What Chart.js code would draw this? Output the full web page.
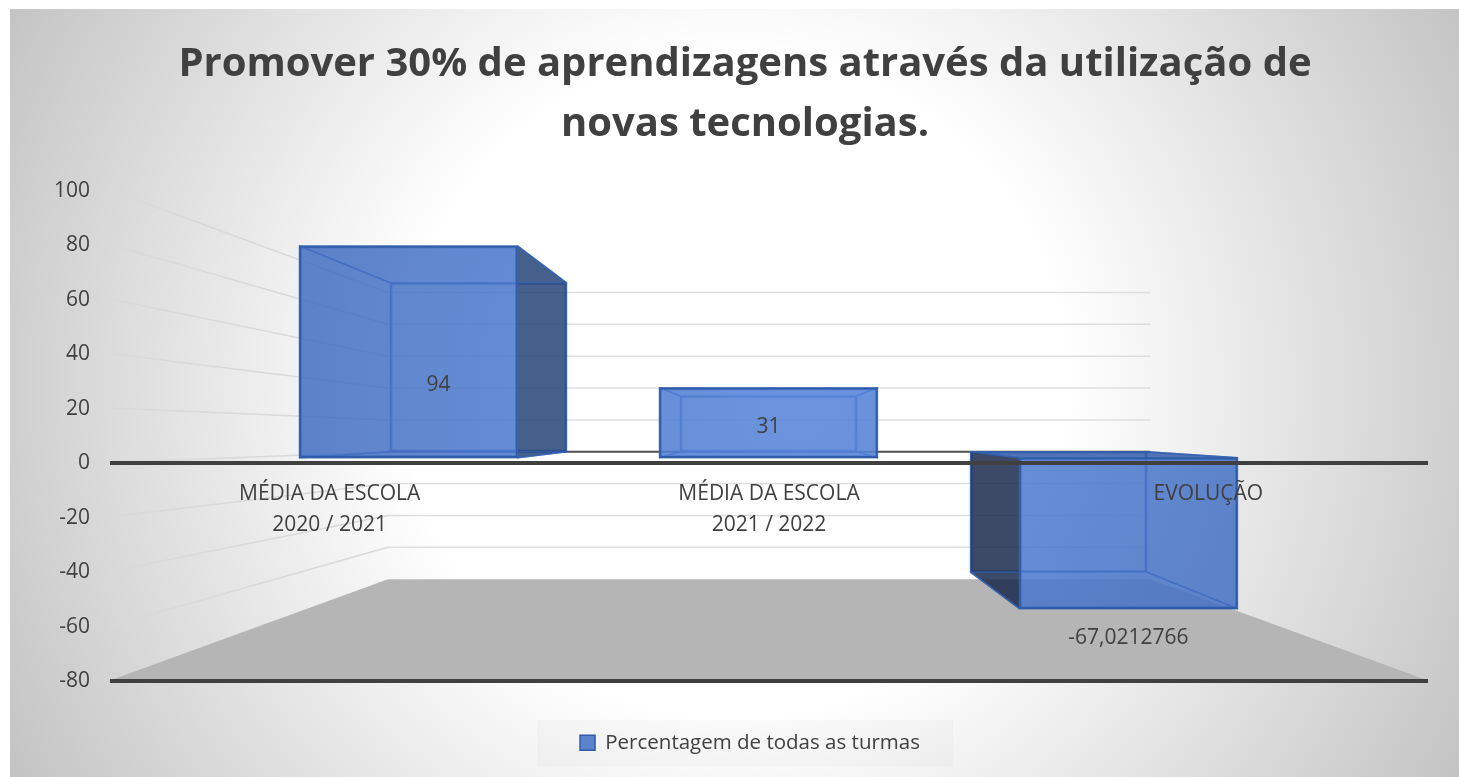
<!DOCTYPE html>
<html lang="pt">
<head>
<meta charset="utf-8">
<title>Promover 30% de aprendizagens</title>
<script src="https://cdn.jsdelivr.net/npm/chart.js@4"></script>
<style>
html,body{margin:0;padding:0;background:#fff;}
canvas{display:block;}
</style>
</head>
<body>
<canvas id="c" width="1459" height="777"></canvas>
<script>
const titleLines = ['Promover 30% de aprendizagens através da utilização de', 'novas tecnologias.'];
const categories = [['MÉDIA DA ESCOLA', '2020 / 2021'], ['MÉDIA DA ESCOLA', '2021 / 2022'], 'EVOLUÇÃO'];
const categoryIndex = [0, 1, 2];
const seriesName = 'Percentagem de todas as turmas';
const seriesValues = [94, 31, -67.0212766];
const axisMin = -80, axisMax = 100, axisStep = 20;

const FONT = '"Open Sans", sans-serif';
const INK = '#404040';
const points = seriesValues.map((v, i) => ({x: categoryIndex[i], y: v}));
const labelNudge = [[30, 33], [0, 4], [0, 105]];

let barGradient = null;
function frontFill(ctx) {
  if (!barGradient) {
    const g = ctx.chart.ctx.createRadialGradient(800, 400, 0, 800, 400, 500);
    g.addColorStop(0, 'rgba(88,134,218,0.88)');
    g.addColorStop(1, 'rgba(66,110,194,0.85)');
    barGradient = g;
  }
  return barGradient;
}

function poly(c, pts) {
  c.beginPath();
  pts.forEach((p, i) => i ? c.lineTo(p[0], p[1]) : c.moveTo(p[0], p[1]));
  c.closePath();
}
function rectOf(el) {
  return {l: el.x - el.width / 2, r: el.x + el.width / 2,
          t: Math.min(el.y, el.base), b: Math.max(el.y, el.base)};
}

const scenePlugin = {
  id: 'scene',
  afterLayout(chart) {
    const lg = chart.legend, tb = chart.titleBlock;
    lg.top += 42; lg.bottom += 42;
    lg.left += 16; lg.right += 16;
    tb.left += 11; tb.right += 11;
  },
  beforeDraw(chart) {
    const c = chart.ctx, W = chart.width, H = chart.height;
    c.save();
    c.fillStyle = '#fff';
    c.fillRect(0, 0, W, H);
    const g = c.createRadialGradient(735, 385, 0, 735, 385, 850);
    g.addColorStop(0, '#ffffff');
    g.addColorStop(330 / 850, '#ffffff');
    g.addColorStop(1, '#c0c0c0');
    c.fillStyle = g;
    c.fillRect(10, 9, W - 10, H - 9);
    c.fillStyle = 'rgba(0,0,0,0.018)';
    c.fillRect(537, 720, 416, 46);
    c.restore();
  },
  beforeDatasetsDraw(chart) {
    const c = chart.ctx, s = chart.scales;
    const xL = s.x.left, xR = s.x.right;
    const wL = s.xWall.getPixelForValue(-0.5), wR = s.xWall.getPixelForValue(2.5);
    c.save();
    poly(c, [[xL, s.y.getPixelForValue(axisMin)], [wL, s.yWall.getPixelForValue(axisMin)],
             [wR, s.yWall.getPixelForValue(axisMin)], [xR, s.y.getPixelForValue(axisMin)]]);
    c.fillStyle = '#b5b5b5';
    c.fill();
    for (let t = axisMin + axisStep; t <= axisMax; t += axisStep) {
      const wy = s.yWall.getPixelForValue(t);
      c.beginPath();
      c.moveTo(xL, s.y.getPixelForValue(t));
      c.lineTo(wL, wy);
      c.strokeStyle = '#d9d9d9';
      c.lineWidth = 1.5;
      c.stroke();
      c.beginPath();
      c.moveTo(wL, wy);
      c.lineTo(wR, wy);
      c.strokeStyle = t === 0 ? '#505050' : '#dedede';
      c.lineWidth = t === 0 ? 2 : 1.5;
      c.stroke();
    }
    c.restore();
  },
  beforeDatasetDraw(chart, args) {
    if (args.index !== 0) return;
    const c = chart.ctx;
    const fr = chart.getDatasetMeta(0).data, bk = chart.getDatasetMeta(1).data;
    c.save();
    c.lineJoin = 'round';
    fr.forEach((el, i) => {
      const f = rectOf(el), b = rectOf(bk[i]);
      const faces = [
        {p: [[f.l, f.t], [b.l, b.t], [b.l, b.b], [f.l, f.b]], out: b.l < f.l, fill: 'rgba(26,42,76,0.85)'},
        {p: [[f.r, f.t], [b.r, b.t], [b.r, b.b], [f.r, f.b]], out: b.r > f.r, fill: 'rgba(38,68,120,0.85)'},
        {p: [[f.l, f.t], [f.r, f.t], [b.r, b.t], [b.l, b.t]], out: b.t < f.t, fill: 'rgba(52,92,170,0.85)'},
        {p: [[f.l, f.b], [f.r, f.b], [b.r, b.b], [b.l, b.b]], out: b.b > f.b, fill: 'rgba(38,68,120,0.85)'}
      ];
      faces.forEach(face => {
        poly(c, face.p);
        if (face.out) { c.fillStyle = face.fill; c.fill(); }
        c.strokeStyle = 'rgba(50,96,178,0.75)';
        c.lineWidth = 1.5;
        c.stroke();
      });
    });
    c.restore();
  },
  afterDatasetsDraw(chart) {
    const c = chart.ctx, fr = chart.getDatasetMeta(0).data;
    c.save();
    c.font = '21px ' + FONT;
    c.fillStyle = INK;
    c.textAlign = 'center';
    c.textBaseline = 'middle';
    fr.forEach((el, i) => {
      const r = rectOf(el);
      c.fillText(String(seriesValues[i]).replace('.', ','),
                 el.x + labelNudge[i][0], (r.t + r.b) / 2 + labelNudge[i][1]);
    });
    c.restore();
  }
};

new Chart(document.getElementById('c'), {
  type: 'bar',
  plugins: [scenePlugin],
  data: {
    labels: categories,
    datasets: [
      {
        label: seriesName, data: points, xAxisID: 'xFront', yAxisID: 'yFront',
        barThickness: 218, grouped: false, borderSkipped: false,
        backgroundColor: frontFill, borderColor: '#2f5ca8', borderWidth: 2
      },
      {
        label: seriesName, data: points, xAxisID: 'xBack', yAxisID: 'yBack',
        barThickness: 176, grouped: false, borderSkipped: false,
        backgroundColor: 'rgba(0,0,0,0)', borderColor: 'rgba(50,96,178,0.75)', borderWidth: 1.5
      }
    ]
  },
  options: {
    responsive: false,
    animation: false,
    events: [],
    layout: {padding: {top: 35, left: 40, right: 31, bottom: 56}},
    plugins: {
      tooltip: {enabled: false},
      title: {
        display: true, text: titleLines, color: INK,
        font: {family: FONT, size: 40, weight: 'bold', lineHeight: 1.5},
        padding: {top: 0, bottom: 35}
      },
      legend: {
        position: 'bottom',
        labels: {
          boxWidth: 15, boxHeight: 15, padding: 10, color: INK,
          font: {family: FONT, size: 20.5},
          generateLabels: chart => [{
            text: chart.data.datasets[0].label, fillStyle: '#5b84cc',
            strokeStyle: '#2f5ca8', lineWidth: 1.5, datasetIndex: 0, fontColor: INK
          }]
        }
      }
    },
    scales: {
      x: {
        type: 'category', offset: true, position: {y: 0},
        grid: {display: false}, border: {display: false},
        ticks: {
          color: INK, z: 1, padding: 9, maxRotation: 0, autoSkip: false,
          font: {family: FONT, size: 21, lineHeight: 1.43}
        }
      },
      y: {
        type: 'linear', position: 'left', min: axisMin, max: axisMax,
        afterFit(scale) { scale.width = 70; },
        border: {display: false},
        grid: {
          z: 1, drawTicks: false,
          color: ctx => (ctx.tick.value === 0 || ctx.tick.value === axisMin) ? '#404040' : 'rgba(0,0,0,0)',
          lineWidth: ctx => (ctx.tick.value === 0 || ctx.tick.value === axisMin) ? 4 : 0
        },
        ticks: {
          stepSize: axisStep, color: INK, padding: 20, labelOffset: 1,
          font: {family: FONT, size: 21}
        }
      },
      xFront: {type: 'linear', display: false, offset: false, min: -0.829, max: 2.832},
      yFront: {type: 'linear', display: false, min: -98.9, max: 118.8},
      xBack: {type: 'linear', display: false, offset: false, min: -1.2707, max: 3.274},
      yBack: {type: 'linear', display: false, min: -127.4, max: 145.7},
      xWall: {type: 'linear', display: false, offset: false, min: -1.594, max: 3.594},
      yWall: {type: 'linear', display: false, min: -143.6, max: 164.3}
    }
  }
});
</script>
</body>
</html>
